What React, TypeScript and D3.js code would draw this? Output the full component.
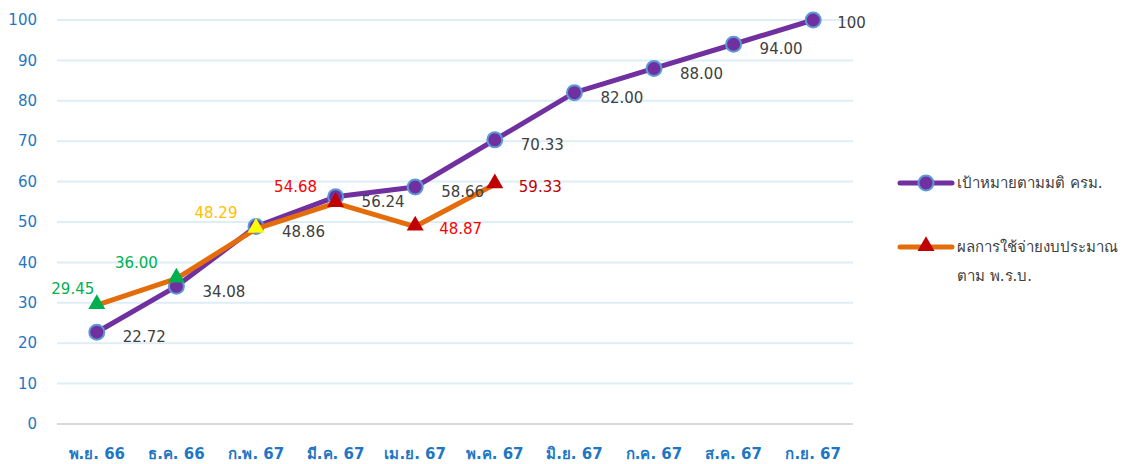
import React, { useEffect, useRef } from 'react';
import * as d3 from 'd3';

// data ---------------------------------------------------------
const months = ['พ.ย. 66', 'ธ.ค. 66', 'ก.พ. 67', 'มี.ค. 67', 'เม.ย. 67', 'พ.ค. 67', 'มิ.ย. 67', 'ก.ค. 67', 'ส.ค. 67', 'ก.ย. 67'];
const targetValues = [22.72, 34.08, 48.86, 56.24, 58.66, 70.33, 82.0, 88.0, 94.0, 100];
const targetLabels = ['22.72', '34.08', '48.86', '56.24', '58.66', '70.33', '82.00', '88.00', '94.00', '100'];
const actualValues = [29.45, 36.0, 48.29, 54.68, 48.87, 59.33];
const actualLabels = ['29.45', '36.00', '48.29', '54.68', '48.87', '59.33'];
const actualMarkerColors = ['#00b050', '#00b050', '#ffff00', '#c00000', '#c00000', '#c00000'];
const actualLabelColors = ['#00b050', '#00b050', '#ffc000', '#ff0000', '#ff0000', '#c00000'];
const yTicks = [0, 10, 20, 30, 40, 50, 60, 70, 80, 90, 100];
const legendNames = ['เป้าหมายตามมติ ครม.', 'ผลการใช้จ่ายงบประมาณ', 'ตาม พ.ร.บ.'];

const App = () => {
    const [width, height] = [1125, 464];
    const ref = useRef<SVGSVGElement>(null);

    useEffect(() => {
        const svg = d3.select(ref.current);
        svg.selectAll('*').remove();

        const font = 'Tahoma, Verdana, "DejaVu Sans", sans-serif';
        const x = d3.scaleBand().domain(months).range([57, 853]);
        const y = d3.scaleLinear().domain([0, 100]).range([424, 20]);
        const cx = (i: number) => (x(months[i]) as number) + x.bandwidth() / 2;

        // grid lines
        svg.append('g')
            .selectAll('line')
            .data(yTicks.filter((t) => t > 0))
            .join('line')
            .attr('x1', 57).attr('x2', 853)
            .attr('y1', (d) => y(d)).attr('y2', (d) => y(d))
            .attr('stroke', '#deeef6').attr('stroke-width', 2);

        svg.append('line')
            .attr('x1', 57).attr('x2', 853)
            .attr('y1', y(0)).attr('y2', y(0))
            .attr('stroke', '#d9d9d9').attr('stroke-width', 2);

        // y axis labels
        svg.append('g')
            .selectAll('text')
            .data(yTicks)
            .join('text')
            .attr('x', 37).attr('y', (d) => y(d))
            .attr('dy', '0.35em')
            .attr('text-anchor', 'end')
            .attr('font-family', font).attr('font-size', 15)
            .attr('fill', '#1f77c4')
            .text((d) => d);

        // x axis labels
        svg.append('g')
            .selectAll('text')
            .data(months)
            .join('text')
            .attr('x', (d, i) => cx(i)).attr('y', 454)
            .attr('dy', '0.35em')
            .attr('text-anchor', 'middle')
            .attr('font-family', font).attr('font-size', 15).attr('font-weight', 'bold')
            .attr('fill', '#1f77c4')
            .text((d) => d);

        const line = d3.line<number>().x((d, i) => cx(i)).y((d) => y(d));

        // target series (drawn first)
        svg.append('path')
            .datum(targetValues)
            .attr('d', line)
            .attr('fill', 'none').attr('stroke', '#7030a0').attr('stroke-width', 5)
            .attr('stroke-linejoin', 'round');

        svg.append('g')
            .selectAll('circle')
            .data(targetValues)
            .join('circle')
            .attr('cx', (d, i) => cx(i)).attr('cy', (d) => y(d))
            .attr('r', 7.5)
            .attr('fill', '#7030a0').attr('stroke', '#5b9bd5').attr('stroke-width', 2);

        // actual series (on top)
        svg.append('path')
            .datum(actualValues)
            .attr('d', line)
            .attr('fill', 'none').attr('stroke', '#e46c0a').attr('stroke-width', 5)
            .attr('stroke-linejoin', 'round');

        const tri = d3.symbol().type(d3.symbolTriangle).size(125);
        svg.append('g')
            .selectAll('path')
            .data(actualValues)
            .join('path')
            .attr('d', tri)
            .attr('transform', (d, i) => `translate(${cx(i)},${y(d) - 1})`)
            .attr('fill', (d, i) => actualMarkerColors[i]);

        // target labels
        svg.append('g')
            .selectAll('text')
            .data(targetValues)
            .join('text')
            .attr('x', (d, i) => cx(i) + (i === 9 ? 24 : 26))
            .attr('y', (d, i) => y(d) + (i === 9 ? 3 : 5))
            .attr('dy', '0.35em')
            .attr('font-family', font).attr('font-size', 15)
            .attr('fill', '#404040')
            .text((d, i) => targetLabels[i]);

        // actual labels: first four above-left, last two right
        svg.append('g')
            .selectAll('text')
            .data(actualValues)
            .join('text')
            .attr('x', (d, i) => (i < 4 ? cx(i) - 40 + (i === 0 ? 16 : 0) : cx(i) + 24))
            .attr('y', (d, i) => (i < 4 ? y(d) - 16 : y(d) + 2))
            .attr('dy', '0.35em')
            .attr('text-anchor', (d, i) => (i < 4 ? 'middle' : 'start'))
            .attr('font-family', font).attr('font-size', 15)
            .attr('fill', (d, i) => actualLabelColors[i])
            .text((d, i) => actualLabels[i]);

        // legend
        const lg = svg.append('g').attr('font-family', font).attr('font-size', 15).attr('fill', '#404040');
        lg.append('line').attr('x1', 900).attr('x2', 952).attr('y1', 183).attr('y2', 183)
            .attr('stroke', '#7030a0').attr('stroke-width', 5).attr('stroke-linecap', 'round');
        lg.append('circle').attr('cx', 926).attr('cy', 183).attr('r', 7.5)
            .attr('fill', '#7030a0').attr('stroke', '#5b9bd5').attr('stroke-width', 2);
        lg.append('text').attr('x', 957).attr('y', 183).attr('dy', '0.35em').text(legendNames[0]);

        lg.append('line').attr('x1', 900).attr('x2', 952).attr('y1', 247).attr('y2', 247)
            .attr('stroke', '#e46c0a').attr('stroke-width', 5).attr('stroke-linecap', 'round');
        lg.append('path').attr('d', tri).attr('transform', 'translate(926,246)').attr('fill', '#c00000');
        lg.append('text').attr('x', 957).attr('y', 247).attr('dy', '0.35em').text(legendNames[1]);
        lg.append('text').attr('x', 957).attr('y', 276).attr('dy', '0.35em').text(legendNames[2]);
    }, []);

    return (
        <svg ref={ref} width={width} height={height} style={{ display: 'block', position: 'absolute', left: 0, top: 0 }} />
    );
};

export default App;
